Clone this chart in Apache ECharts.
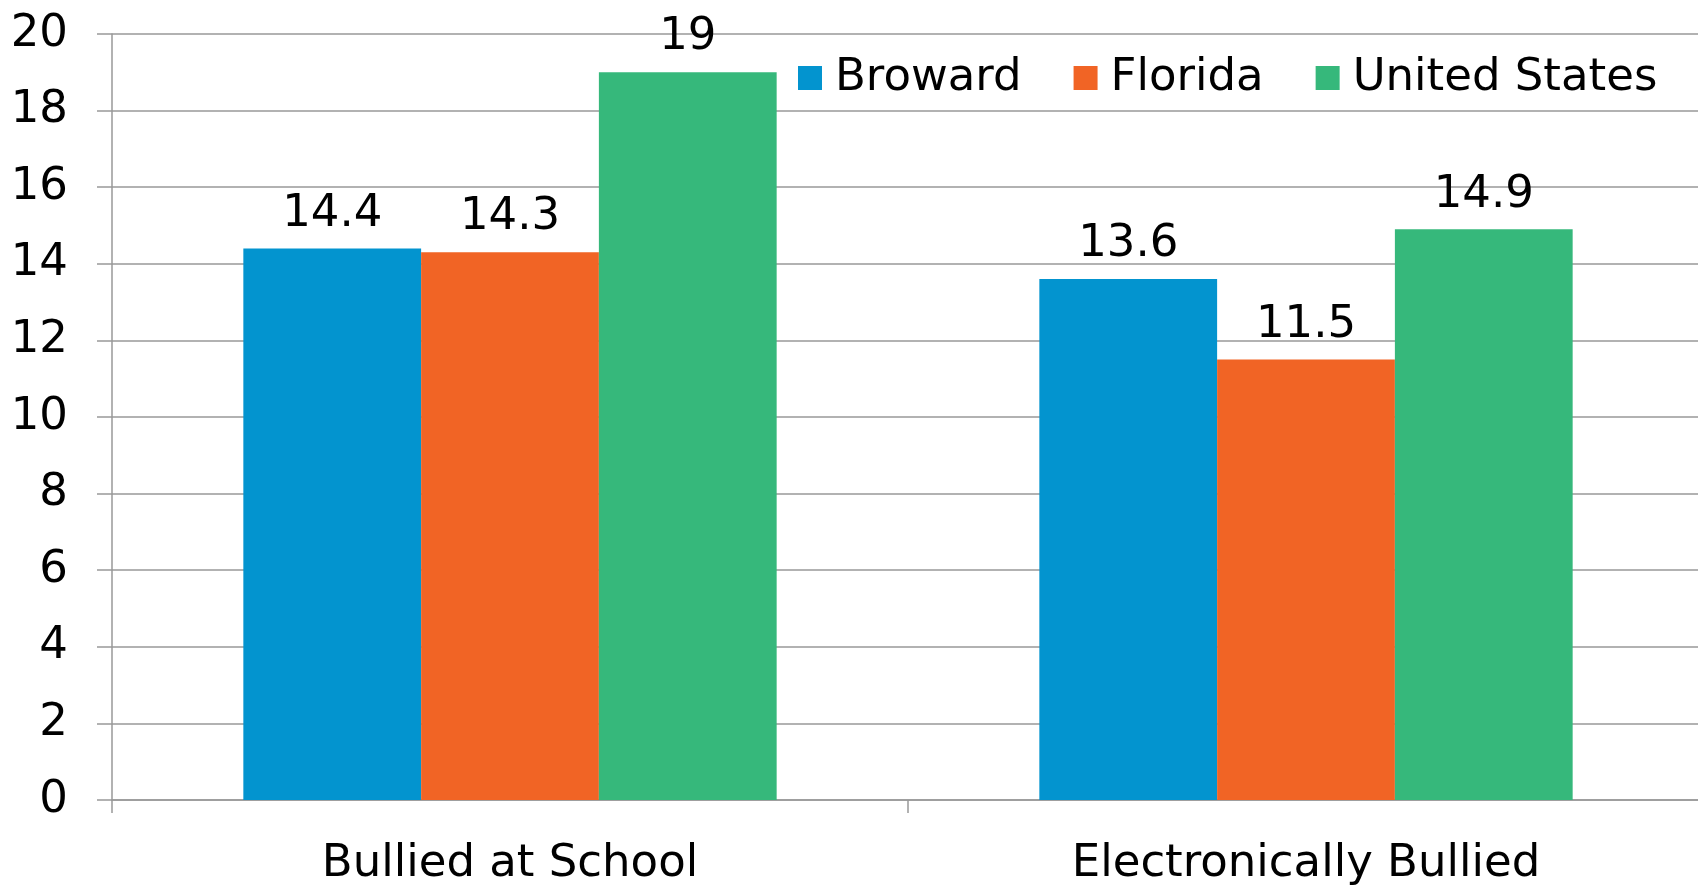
<!DOCTYPE html>
<html><head><meta charset="utf-8">
<script src="https://cdn.jsdelivr.net/npm/echarts@6/dist/echarts.min.js"></script>
<style>html,body{margin:0;padding:0;background:#fff}#c{width:1698px;height:887px}</style>
</head><body><div id="c"></div>
<script>
const categories = ['Bullied at School', 'Electronically Bullied'];
const seriesNames = ['Broward', 'Florida', 'United States'];
const broward = [14.4, 13.6];
const florida = [14.3, 11.5];
const unitedStates = [19, 14.9];
const colors = ['#0394CF', '#F16425', '#36B87B'];
const yTicks = [0, 2, 4, 6, 8, 10, 12, 14, 16, 18, 20];

const FONT = 'DejaVu Sans';
const FS = 45;
const chart = echarts.init(document.getElementById('c'));
const mk = (name, data, color) => ({
  name, type: 'bar', data, barGap: '0%', barCategoryGap: '33%',
  itemStyle: { color },
  label: { show: true, position: 'top', distance: 12, color: '#000', fontFamily: FONT, fontSize: FS }
});
chart.setOption({
  animation: false,
  color: colors,
  textStyle: { fontFamily: FONT },
  legend: {
    data: seriesNames, left: 793, top: 50, itemWidth: 24, itemHeight: 24, itemGap: 52,
    icon: 'rect',
    textStyle: { fontFamily: FONT, fontSize: FS, color: '#000', padding: [0, 0, 0, 8], lineHeight: 46 }
  },
  grid: { left: 112, width: 1592, top: 34, bottom: 87, containLabel: false, outerBoundsMode: 'none' },
  xAxis: {
    type: 'category', data: categories,
    axisLine: { lineStyle: { color: '#999', width: 1.5 } },
    axisTick: { show: true, length: 13, alignWithLabel: false, lineStyle: { color: '#999', width: 1.5 } },
    axisLabel: { fontFamily: FONT, fontSize: FS, color: '#000', margin: 42 }
  },
  yAxis: {
    type: 'value', min: yTicks[0], max: yTicks[yTicks.length - 1], interval: 2,
    axisLine: { show: true, lineStyle: { color: '#999', width: 1.5 } },
    axisTick: { show: true, length: 15, lineStyle: { color: '#999', width: 1.5 } },
    splitLine: { show: true, lineStyle: { color: '#999', width: 1.5 } },
    axisLabel: { fontFamily: FONT, fontSize: FS, color: '#000', margin: 44 }
  },
  series: [mk(seriesNames[0], broward, colors[0]), mk(seriesNames[1], florida, colors[1]), mk(seriesNames[2], unitedStates, colors[2])]
});
</script></body></html>
